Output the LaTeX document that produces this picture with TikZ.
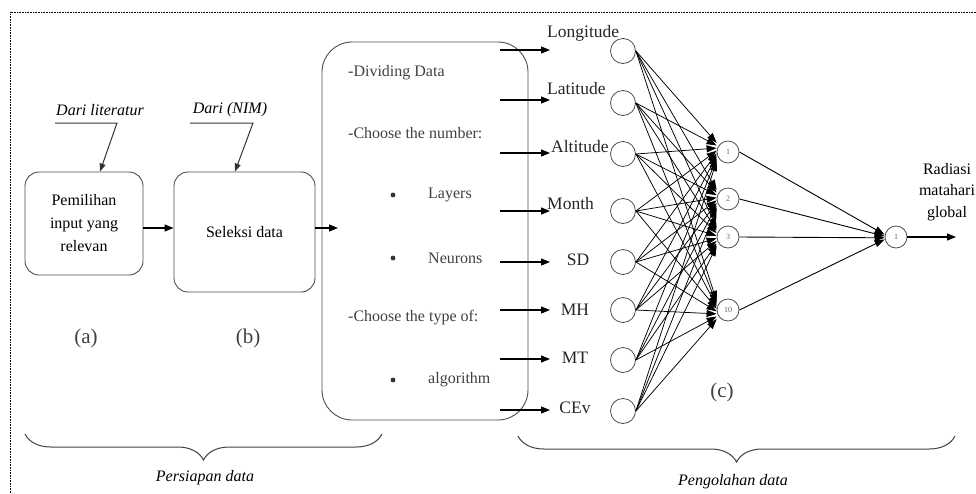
\documentclass[tikz,border=0pt]{standalone}
\usepackage{fontspec}
\setmainfont{Liberation Serif}
\usetikzlibrary{arrows.meta,decorations.pathreplacing,calc}

\begin{document}
\begin{tikzpicture}[x=1pt,y=-1pt,
  box/.style={draw=black!70, line width=0.9pt, rounded corners=14pt},
  bigbox/.style={draw=black!70, line width=0.9pt, rounded corners=30pt},
  conn/.style={-{Triangle[length=9pt,width=7pt]}, line width=1.2pt},
  lead/.style={-{Triangle[length=8pt,width=6pt]}, line width=1pt, black!80},
  wire/.style={-{Triangle[length=10pt,width=7pt]}, line width=0.75pt},
  neuron/.style={circle, draw=black!70, line width=0.8pt, minimum size=25pt, inner sep=0pt},
  hid/.style={circle, draw=black!70, line width=0.8pt, minimum size=22pt, inner sep=0pt,
              font=\fontsize{8}{9}\selectfont, text=black!60},
  lbl/.style={font=\fontsize{16}{19}\selectfont, inner sep=1pt},
  inlbl/.style={font=\fontsize{17.5}{20}\selectfont, text=black!85, inner sep=1pt},
  itlbl/.style={font=\fontsize{16}{19}\selectfont\itshape, inner sep=1pt},
  boxtxt/.style={font=\fontsize{16}{19}\selectfont, text=black!75, inner sep=0pt, anchor=west},
  tag/.style={font=\fontsize{21}{24}\selectfont, text=black!75},
  brc/.style={decorate, decoration={brace, mirror, amplitude=26pt}, line width=1pt, black!75}
]
\useasboundingbox (0,0) rectangle (976,493);

% frame
\draw[densely dotted, line width=0.6pt] (10,493) -- (10,12) -- (976,12);

% preparation boxes
\node[box, minimum width=118pt, minimum height=103pt, align=center,
      font=\fontsize{16}{23}\selectfont] (a) at (84,223.5) {Pemilihan\\input yang\\relevan};
\node[box, minimum width=141pt, minimum height=120pt, lbl] (b) at (244.5,232) {Seleksi data};
\draw[conn] ([yshift=-4.5pt]a.east) -- ([yshift=-4.5pt]a.east -| b.west);

% sources
\node[itlbl] (dl) at (100,110) {Dari literatur};
\node[itlbl] (dn) at (230,110) {Dari (NIM)};
\coordinate (dlk) at (117,123);
\coordinate (dnk) at (253,123);
\draw[lead] (55,123) -- (dlk) -- ([xshift=16pt]a.north);
\draw[lead] (190,123) -- (dnk) -- ([xshift=-9.5pt]b.north);

% configuration box
\node[bigbox, minimum width=206pt, minimum height=378pt] (c) at (425,231) {};
\coordinate (cin) at (338,228);
\draw[conn] ([yshift=4pt]b.east) -- (cin);

\node[boxtxt] (t1) at (348,73)  {-Dividing Data};
\node[boxtxt] (t2) at (348,133) {-Choose the number:};
\node[boxtxt] (t3) at (428,195) {Layers};
\node[boxtxt] (t4) at (428,258) {Neurons};
\node[boxtxt] (t5) at (348,318) {-Choose the type of:};
\node[boxtxt] (t6) at (428,380) {algorithm};
\foreach \y in {195,258,380}
  \fill[black!80] (393,\y) circle (2.4pt);

% input labels
\node[inlbl, anchor=west] (l1) at (546,33)  {Longitude};
\node[inlbl, anchor=west] (l2) at (546,89)  {Latitude};
\node[inlbl, anchor=west] (l3) at (550,147) {Altitude};
\node[inlbl, anchor=west] (l4) at (546,204) {Month};
\node[inlbl] (l5) at (578,260) {SD};
\node[inlbl] (l6) at (575,310) {MH};
\node[inlbl] (l7) at (575,358) {MT};
\node[inlbl] (l8) at (575,408) {CEv};

% arrows from the configuration box to the inputs
\foreach \i/\y in {1/50,2/100,3/153,4/211,5/262,6/310,7/359,8/410} {
  \coordinate (s\i) at (500,\y);
  \coordinate (e\i) at (550,\y);
  \draw[conn] (s\i) -- (e\i);
}

% input neurons
\foreach \i/\y in {1/51,2/103,3/154,4/211,5/262,6/310,7/360,8/411}
  \node[neuron] (in\i) at (623,\y) {};

% hidden neurons
\node[hid] (h1) at (728,152) {1};
\node[hid] (h2) at (728,199) {2};
\node[hid] (h3) at (728,237) {3};
\node[hid] (h4) at (728,310) {10};

% output neuron
\node[hid] (o) at (896,237) {1};
\coordinate (oend) at (956,237);

% connections input -> hidden, the heads stacked along each neuron's left side
\foreach \i in {1,...,8}
  \foreach \j in {1,...,4}
    \draw[wire] (in\i.east) -- ($(h\j.west)+(0,{(\i-4.5)*2.6})$);

% connections hidden -> output
\foreach \j in {1,...,4}
  \draw[wire, line width=0.9pt] (h\j.east) -- ($(o.west)+(0,{(\j-2.5)*1.6})$);
\draw[conn] (o.east) -- (oend);

\node[lbl, align=center, font=\fontsize{16}{21.5}\selectfont] (out) at (947,192) {Radiasi\\matahari\\global};

% stage tags
\node[tag] (ta) at (86,338) {(a)};
\node[tag] (tb) at (248,338) {(b)};
\node[tag] (tc) at (722,392) {(c)};

% braces
\coordinate (b1s) at (25,434);
\coordinate (b1e) at (382,434);
\coordinate (b2s) at (518,436);
\coordinate (b2e) at (955,436);
\draw[brc] (b1s) -- (b1e);
\draw[brc] (b2s) -- (b2e);
\node[itlbl] (p1) at (205,478) {Persiapan data};
\node[itlbl] (p2) at (733,482) {Pengolahan data};
\end{tikzpicture}
\end{document}
